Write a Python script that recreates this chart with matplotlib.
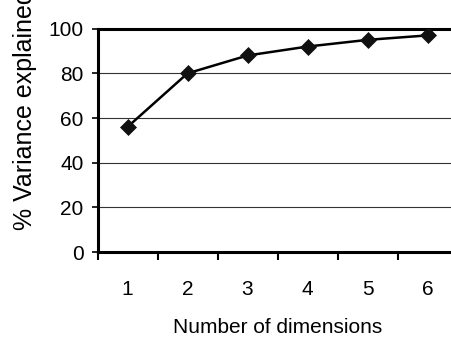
import matplotlib
matplotlib.use("Agg")
import matplotlib.pyplot as plt

dimensions = [1, 2, 3, 4, 5, 6]
variance_explained = [56, 80, 88, 92, 95, 97]
y_ticks = [0, 20, 40, 60, 80, 100]

plt.rcParams['font.family'] = ['Liberation Sans', 'DejaVu Sans']

W, H = 451, 341
fig = plt.figure(figsize=(W / 100, H / 100), dpi=100)
left, right, top, bottom = 97.5, 457.5, 28.7, 252.0
ax = fig.add_axes([left / W, 1 - bottom / H, (right - left) / W, (bottom - top) / H])

ax.plot(dimensions, variance_explained, color='black', lw=1.8,
        marker='D', markersize=8.5, markerfacecolor='#111111',
        markeredgecolor='#111111', markeredgewidth=0.5, zorder=3)

ax.set_xlim(0.5, 6.5)
ax.set_ylim(0, 100)
ax.set_yticks(y_ticks)
ax.set_xticks(dimensions)
ax.set_xticks([0.5 + i for i in range(7)], minor=True)

for yv in y_ticks[1:-1]:
    ax.axhline(yv, color='#333333', lw=0.8, zorder=1)

for side in ['left', 'bottom', 'top']:
    ax.spines[side].set_linewidth(2.2)
    ax.spines[side].set_color('black')
ax.spines['right'].set_visible(False)

ax.tick_params(axis='y', direction='out', length=4.5, width=1.2, pad=5.5,
               labelsize=15)
ax.tick_params(axis='x', which='major', length=0, pad=20, labelsize=15)
ax.tick_params(axis='x', which='minor', direction='out', length=6, width=1.5)

ax.set_xlabel('Number of dimensions', fontsize=15, labelpad=14)
fig.text(13 / W, 1 - 230 / H, '% Variance explained', rotation=90,
         ha='left', va='bottom', fontsize=18)

fig.savefig('out.png', dpi=100)
